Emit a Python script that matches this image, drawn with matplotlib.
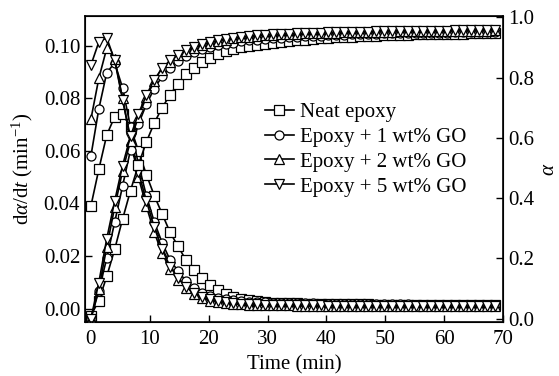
import numpy as np
import matplotlib
matplotlib.use('Agg')
import matplotlib.pyplot as plt

plt.rcParams['font.family'] = ['Liberation Serif', 'DejaVu Serif']
plt.rcParams['mathtext.fontset'] = 'custom'
plt.rcParams['mathtext.rm'] = 'Liberation Serif'
plt.rcParams['mathtext.it'] = 'Liberation Serif:italic'

# time (min)
time = [0, 1.35, 2.69, 4.04, 5.38, 6.73, 8.07, 9.42, 10.76, 12.11,
        13.45, 14.8, 16.14, 17.49, 18.83, 20.18, 21.52, 22.87, 24.21, 25.56,
        26.9, 28.25, 29.59, 30.94, 32.28, 33.63, 34.97, 36.32, 37.66, 39.01,
        40.35, 41.7, 43.04, 44.39, 45.73, 47.08, 48.42, 49.77, 51.11, 52.46,
        53.8, 55.15, 56.49, 57.84, 59.18, 60.53, 61.87, 63.22, 64.56, 65.91,
        67.25, 68.6]

labels = ['Neat epoxy', 'Epoxy + 1 wt% GO', 'Epoxy + 2 wt% GO', 'Epoxy + 5 wt% GO']

# reaction rate d(alpha)/dt (1/min)
rate_neat = [0.039, 0.053, 0.066, 0.073, 0.074, 0.069, 0.060, 0.051, 0.043, 0.036,
             0.029, 0.0237, 0.0185, 0.0145, 0.0115, 0.0090, 0.0072, 0.0056, 0.0044, 0.0036,
             0.0031, 0.0027, 0.0025, 0.0023, 0.0022, 0.0021, 0.0020, 0.0019, 0.0019, 0.0018,
             0.0018, 0.0017, 0.0017, 0.0016, 0.0016, 0.0016, 0.0015, 0.0015, 0.0015, 0.0014,
             0.0014, 0.0014, 0.0014, 0.0013, 0.0013, 0.0013, 0.0013, 0.0012, 0.0012, 0.0012,
             0.0012, 0.0012]
rate_go1 = [0.058, 0.076, 0.0897, 0.0935, 0.084, 0.069, 0.055, 0.043, 0.033, 0.025,
            0.0185, 0.0143, 0.0105, 0.0078, 0.0060, 0.0048, 0.0040, 0.0035, 0.0031, 0.0028,
            0.0026, 0.0025, 0.0024, 0.0023, 0.0022, 0.0021, 0.0021, 0.0020, 0.0020, 0.0019,
            0.0019, 0.0018, 0.0018, 0.0018, 0.0017, 0.0017, 0.0017, 0.0016, 0.0016, 0.0016,
            0.0016, 0.0015, 0.0015, 0.0015, 0.0015, 0.0015, 0.0014, 0.0014, 0.0014, 0.0014,
            0.0014, 0.0014]
rate_go2 = [0.072, 0.0876, 0.099, 0.095, 0.080, 0.064, 0.050, 0.039, 0.029, 0.021,
            0.015, 0.0108, 0.0077, 0.0055, 0.0040, 0.0030, 0.0024, 0.0020, 0.0018, 0.0016,
            0.0015, 0.0014, 0.0013, 0.0013, 0.0012, 0.0012, 0.0011, 0.0011, 0.0011, 0.0010,
            0.0010, 0.0010, 0.0010, 0.0010, 0.0009, 0.0009, 0.0009, 0.0009, 0.0009, 0.0009,
            0.0009, 0.0008, 0.0008, 0.0008, 0.0008, 0.0008, 0.0008, 0.0008, 0.0008, 0.0008,
            0.0008, 0.0008]
rate_go5 = [0.0926, 0.1014, 0.103, 0.0945, 0.0795, 0.065, 0.052, 0.041, 0.031, 0.0225,
            0.016, 0.0115, 0.0082, 0.0060, 0.0045, 0.0035, 0.0028, 0.0024, 0.0021, 0.0019,
            0.0017, 0.0016, 0.0015, 0.0014, 0.0014, 0.0013, 0.0013, 0.0012, 0.0012, 0.0012,
            0.0011, 0.0011, 0.0011, 0.0011, 0.0010, 0.0010, 0.0010, 0.0010, 0.0010, 0.0010,
            0.0009, 0.0009, 0.0009, 0.0009, 0.0009, 0.0009, 0.0009, 0.0009, 0.0009, 0.0009,
            0.0009, 0.0009]

# degree of cure alpha
alpha_neat = [0.01, 0.06, 0.14, 0.23, 0.33, 0.425, 0.51, 0.586, 0.649, 0.70,
              0.743, 0.78, 0.81, 0.83, 0.85, 0.866, 0.879, 0.888, 0.894, 0.90,
              0.904, 0.908, 0.912, 0.915, 0.918, 0.921, 0.923, 0.926, 0.928, 0.930,
              0.932, 0.933, 0.935, 0.936, 0.937, 0.938, 0.939, 0.940, 0.941, 0.941,
              0.942, 0.943, 0.943, 0.944, 0.944, 0.945, 0.945, 0.945, 0.946, 0.946,
              0.946, 0.947]
alpha_go1 = [0.0, 0.093, 0.20, 0.32, 0.44, 0.56, 0.645, 0.711, 0.763, 0.804,
             0.833, 0.855, 0.871, 0.883, 0.893, 0.901, 0.907, 0.912, 0.916, 0.920,
             0.923, 0.926, 0.928, 0.930, 0.932, 0.934, 0.935, 0.937, 0.938, 0.939,
             0.940, 0.941, 0.942, 0.943, 0.944, 0.944, 0.945, 0.946, 0.946, 0.947,
             0.947, 0.948, 0.948, 0.949, 0.949, 0.949, 0.950, 0.950, 0.950, 0.951,
             0.951, 0.951]
alpha_go2 = [0.0, 0.099, 0.237, 0.37, 0.49, 0.59, 0.67, 0.735, 0.787, 0.825,
             0.853, 0.873, 0.888, 0.899, 0.908, 0.915, 0.921, 0.926, 0.930, 0.933,
             0.936, 0.938, 0.940, 0.942, 0.943, 0.944, 0.945, 0.946, 0.947, 0.948,
             0.948, 0.949, 0.950, 0.950, 0.951, 0.951, 0.952, 0.952, 0.952, 0.953,
             0.953, 0.953, 0.954, 0.954, 0.954, 0.954, 0.955, 0.955, 0.955, 0.955,
             0.955, 0.956]
alpha_go5 = [0.0, 0.12, 0.265, 0.39, 0.508, 0.605, 0.68, 0.741, 0.793, 0.83,
             0.857, 0.876, 0.890, 0.901, 0.910, 0.917, 0.923, 0.928, 0.932, 0.935,
             0.938, 0.940, 0.942, 0.943, 0.944, 0.945, 0.946, 0.947, 0.948, 0.949,
             0.950, 0.950, 0.951, 0.951, 0.952, 0.952, 0.953, 0.953, 0.953, 0.954,
             0.954, 0.954, 0.955, 0.955, 0.955, 0.955, 0.956, 0.956, 0.956, 0.956,
             0.957, 0.957]

rates = [rate_neat, rate_go1, rate_go2, rate_go5]
alphas = [alpha_neat, alpha_go1, alpha_go2, alpha_go5]
markers = ['s', 'o', '^', 'v']

fig = plt.figure(figsize=(5.59, 3.76), dpi=100)
ax = fig.add_axes([85 / 559, 1 - 322 / 376, 418 / 559, 306 / 376])
ax2 = ax.twinx()

style = dict(color='black', lw=1.2, mfc='white', mec='black', ms=6.5, mew=0.9)
for r, a, m, lab in zip(rates, alphas, markers, labels):
    ax.plot(time, r, marker=m, label=lab, **style)
    ax2.plot(time, a, marker=m, **style)

ax.set_xlim(-1, 70)
ax.set_ylim(-0.0051, 0.1113)
ax2.set_ylim(-0.011, 1.004)

ax.set_xticks(np.arange(0, 71, 10))
ax.set_yticks(np.arange(0, 0.11, 0.02))
ax.set_yticklabels(['0.00', '0.02', '0.04', '0.06', '0.08', '0.10'])
ax2.set_yticks(np.arange(0, 1.01, 0.2))
ax2.set_yticklabels(['0.0', '0.2', '0.4', '0.6', '0.8', '1.0'])

fs = 15
ax.tick_params(axis='both', direction='in', length=5, width=1, labelsize=fs, top=False, right=False)
ax2.tick_params(axis='y', direction='in', length=5, width=1, labelsize=fs)
ax.tick_params(axis='x', pad=6)

ax.set_xlabel('Time (min)', fontsize=fs, labelpad=4)
ax.set_ylabel(r'd$\it{\alpha}$/d$\it{t}$ (min$^{-1}$)', fontsize=fs, labelpad=6)
ax2.set_ylabel(r'$\it{\alpha}$', fontsize=fs, labelpad=4)

for sp in ax2.spines.values():
    sp.set_linewidth(1.2)

ax.legend(loc='upper left', bbox_to_anchor=(0.43, 0.717), frameon=False,
          fontsize=fs, handlelength=1.4, handletextpad=0.3, labelspacing=0.25,
          borderpad=0, borderaxespad=0)

plt.savefig('out.png', dpi=100)
plt.close(fig)
